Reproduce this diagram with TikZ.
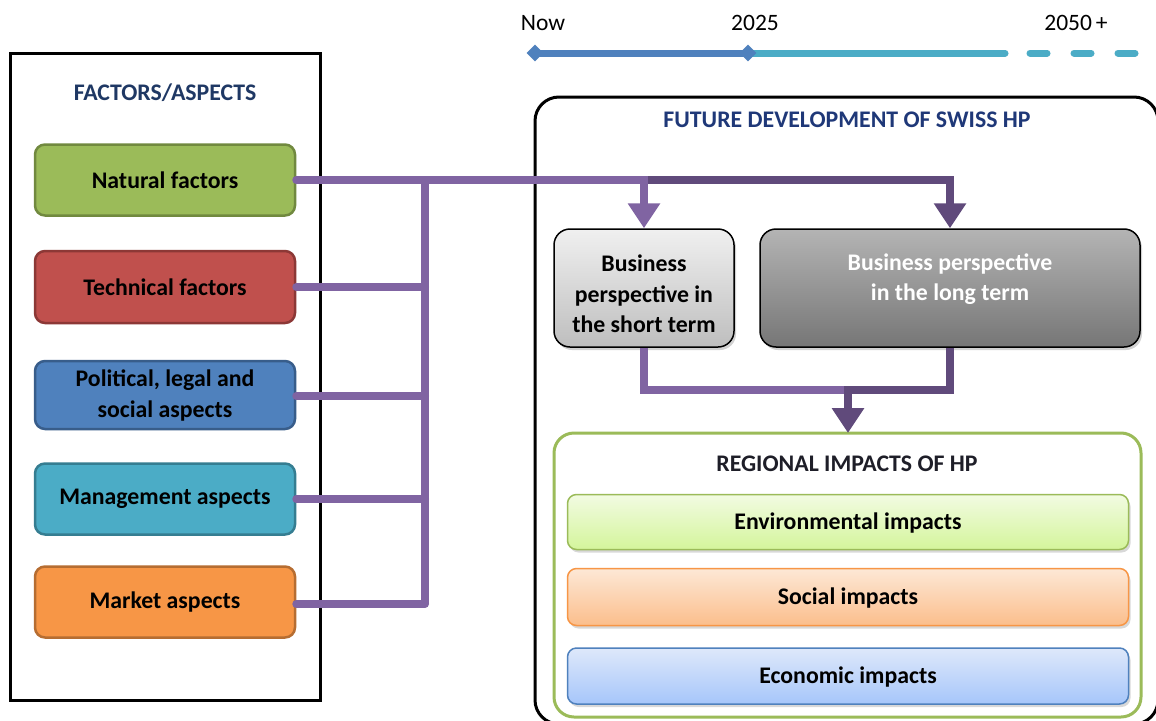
\documentclass[tikz,border=0pt]{standalone}
\usepackage{fontspec}
\setmainfont{Carlito}
\usetikzlibrary{arrows.meta,shapes.geometric,shadows}
\definecolor{pl}{HTML}{8064A2}
\definecolor{pd}{HTML}{604A7B}
\definecolor{navy}{HTML}{1F3864}
\definecolor{tblue}{HTML}{4F81BD}
\definecolor{tteal}{HTML}{4BACC6}
\tikzset{
  fbox/.style={draw, line width=2.5pt, rounded corners=10pt, minimum width=260pt, align=center, font=\fontsize{23.8}{31}\selectfont\bfseries, inner sep=0pt},
  bizbox/.style={draw=black, line width=1.5pt, rounded corners=16pt, minimum height=118pt, inner sep=0pt, drop shadow={opacity=0.35,shadow xshift=2pt,shadow yshift=-3pt}},
  biztext/.style={align=center, font=\fontsize{23.8}{30.5}\selectfont\bfseries, inner sep=0pt},
  impbox/.style={line width=1.5pt, rounded corners=9pt, minimum width=561pt, align=center, font=\fontsize{23.8}{28}\selectfont\bfseries, inner sep=0pt, text height=19pt, text depth=4pt, drop shadow={opacity=0.3,shadow xshift=2pt,shadow yshift=-3pt}},
  ttl/.style={font=\fontsize{23.8}{28}\selectfont\bfseries, inner sep=0pt},
  lp/.style={draw=pl, line width=8pt},
  dp/.style={draw=pd, line width=8pt},
  tip/.style={-{Triangle[width=31pt,length=25pt]}},
  yr/.style={font=\fontsize{23.5}{26}\selectfont, inner sep=0pt},
  dia/.style={diamond, fill=tblue, minimum size=17pt, inner sep=0pt},
}
\begin{document}
\begin{tikzpicture}[x=1pt,y=-1pt]
\useasboundingbox (0,0) rectangle (1156,720);
\fill[white] (0,0) rectangle (1156,720);
\begin{scope}
\clip (0,0) rectangle (1156,720);
% timeline
\node[yr] (tnow) at (543,23) {Now};
\node[yr] (t25) at (755,23) {2025};
\node[yr] (t50) at (1076,23) {2050\,+};
\coordinate (l0) at (535,53);
\coordinate (l1) at (748,53);
\coordinate (l2) at (1005,53);
\coordinate (l3) at (1030,53);
\coordinate (l4) at (1140,53);
\draw[tteal, line width=7pt, line cap=round] (l1) -- (l2);
\draw[tteal, line width=7pt, line cap=round, dash pattern=on 17pt off 27pt] (l3) -- (l4);
\draw[tblue, line width=7pt] (l0) -- (l1);
\node[dia] (d0) at (l0) {};
\node[dia] (d1) at (l1) {};
% left frame
\draw[line width=3pt] (10,53) rectangle (320,700);
\node[ttl, text=navy] (fa) at (165,93) {FACTORS/ASPECTS};
\node[fbox, fill={rgb,255:red,155;green,187;blue,89}, draw={rgb,255:red,113;green,137;blue,63}, minimum height=71pt] (nat) at (165,180) {Natural factors};
\node[fbox, fill={rgb,255:red,192;green,80;blue,77}, draw={rgb,255:red,140;green,56;blue,54}, minimum height=72pt] (tech) at (165,287) {Technical factors};
\node[fbox, fill={rgb,255:red,79;green,129;blue,189}, draw={rgb,255:red,56;green,93;blue,138}, minimum height=68pt] (pol) at (165,395) {Political, legal and\\social aspects};
\node[fbox, fill={rgb,255:red,75;green,172;blue,198}, draw={rgb,255:red,53;green,125;blue,145}, minimum height=71pt] (man) at (165,499) {Management aspects};
\node[fbox, fill={rgb,255:red,247;green,150;blue,70}, draw={rgb,255:red,182;green,109;blue,49}, minimum height=71pt] (mar) at (165,602) {Market aspects};
% right frame
\draw[line width=3pt, rounded corners=24pt] (535,97) rectangle (1158,724);
\node[ttl, text={rgb,255:red,31;green,56;blue,120}] (fd) at (847,120) {FUTURE DEVELOPMENT OF SWISS HP};
\node[bizbox, minimum width=180pt, top color={rgb,255:red,240;green,240;blue,240}, bottom color={rgb,255:red,190;green,190;blue,190}] (st) at (644,288) {};
\node[biztext] (stt) at (644,294) {Business\\perspective in\\the short term};
\node[bizbox, minimum width=380pt, top color={rgb,255:red,180;green,180;blue,180}, bottom color={rgb,255:red,118;green,118;blue,118}] (lt) at (950,288) {};
\node[biztext, text=white] (ltt) at (950,279) {Business perspective\\in the long term};
% regional
\draw[line width=3pt, draw={rgb,255:red,155;green,187;blue,89}, rounded corners=20pt] (554,433) rectangle (1141,717);
\coordinate (regtop) at (848,433);
\node[ttl, text={rgb,255:red,30;green,30;blue,40}] (rt) at (847,464) {REGIONAL IMPACTS OF HP};
\node[impbox, draw={rgb,255:red,155;green,187;blue,89}, top color={rgb,255:red,242;green,251;blue,226}, bottom color={rgb,255:red,212;green,245;blue,155}, minimum height=55pt] (env) at (848,522) {Environmental impacts};
\node[impbox, draw={rgb,255:red,247;green,150;blue,70}, top color={rgb,255:red,253;green,232;blue,214}, bottom color={rgb,255:red,251;green,190;blue,140}, minimum height=57pt] (soc) at (848,597) {Social impacts};
\node[impbox, draw={rgb,255:red,79;green,129;blue,189}, top color={rgb,255:red,222;green,232;blue,250}, bottom color={rgb,255:red,166;green,198;blue,250}, minimum height=56pt] (eco) at (848,676) {Economic impacts};
% connectors
\coordinate (bt) at (425,180);
\coordinate (bb) at (425,604);
\coordinate (j1) at (644,180);
\coordinate (j2) at (848,390);
\draw[lp] (bt) -- (bb);
\draw[lp, line cap=round] (tech.east) -- (tech.east -| bt);
\draw[lp, line cap=round] ([yshift=-1pt]pol.east) -- ([yshift=-1pt]pol.east -| bt);
\draw[lp, line cap=round] (man.east) -- (man.east -| bt);
\draw[lp, line cap=round] ([yshift=-2pt]mar.east) -- ([yshift=-2pt]mar.east -| bt);
\draw[dp, tip] (j1) -| (lt.north);
\draw[lp, tip, line cap=round] (nat.east) -| (st.north);
\draw[lp] (st.south) |- (j2);
\draw[dp, tip] (lt.south) |- (j2) -- (regtop);
\end{scope}
\end{tikzpicture}
\end{document}
